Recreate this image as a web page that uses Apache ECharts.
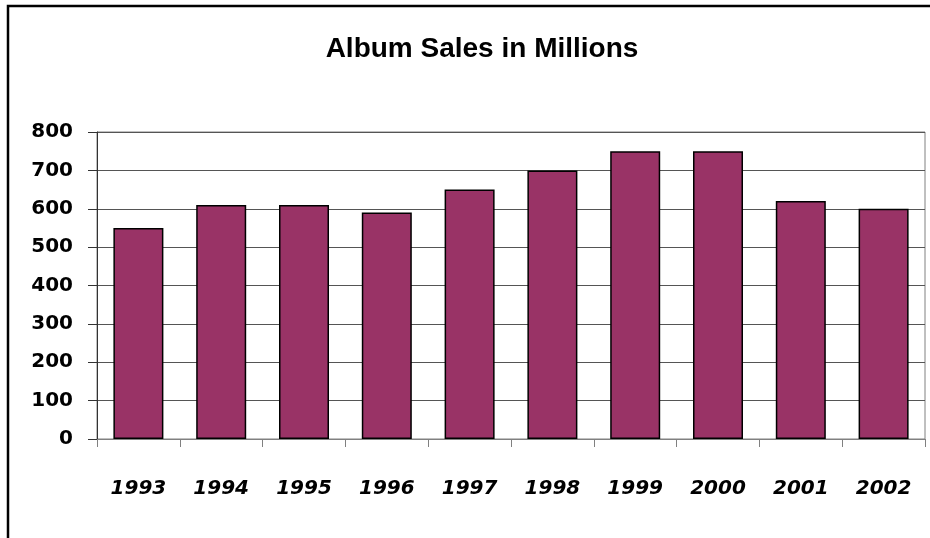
<!DOCTYPE html>
<html>
<head>
<meta charset="utf-8">
<script src="https://cdn.jsdelivr.net/npm/echarts@6/dist/echarts.min.js"></script>
<style>
html, body { margin: 0; padding: 0; background: #fff; }
#chart { width: 930px; height: 538px; }
</style>
</head>
<body>
<div id="chart"></div>
<script>
// data
var years = ['1993', '1994', '1995', '1996', '1997', '1998', '1999', '2000', '2001', '2002'];
var sales = [550, 610, 610, 590, 650, 700, 750, 750, 620, 600];
var yTicks = [0, 100, 200, 300, 400, 500, 600, 700, 800];

var chart = echarts.init(document.getElementById('chart'));
chart.setOption({
    animation: false,
    backgroundColor: '#fff',
    title: {
        text: 'Album Sales in Millions',
        left: 477,
        textAlign: 'center',
        top: 30,
        textStyle: {
            fontFamily: 'Liberation Sans',
            fontWeight: 'bold',
            fontSize: 28,
            color: '#000'
        }
    },
    graphic: [{
        type: 'rect',
        shape: { x: 8, y: 6, width: 1000, height: 1000 },
        style: { fill: 'none', stroke: '#000', lineWidth: 2.5 },
        silent: true
    }],
    grid: {
        left: 97,
        right: 5,
        top: 132,
        bottom: 99,
        show: true,
        borderColor: '#808080',
        borderWidth: 1
    },
    xAxis: {
        type: 'category',
        data: years,
        axisLine: { lineStyle: { color: '#808080', width: 1 } },
        axisTick: { show: true, length: 8, lineStyle: { color: '#808080' } },
        axisLabel: {
            margin: 40,
            color: '#000',
            fontFamily: 'DejaVu Sans',
            fontWeight: 'bold',
            fontStyle: 'italic',
            fontSize: 20
        }
    },
    yAxis: {
        type: 'value',
        min: yTicks[0],
        max: yTicks[yTicks.length - 1],
        interval: 100,
        axisLine: { show: true, lineStyle: { color: '#333', width: 1 } },
        axisTick: { show: true, length: 9, lineStyle: { color: '#333' } },
        splitLine: { show: true, lineStyle: { color: '#555', width: 1 } },
        axisLabel: {
            margin: 24,
            color: '#000',
            fontFamily: 'DejaVu Sans',
            fontWeight: 'bold',
            fontSize: 20
        }
    },
    series: [{
        type: 'bar',
        data: sales,
        barWidth: 50,
        itemStyle: {
            color: '#993366',
            borderColor: '#000',
            borderWidth: 1.5
        }
    }]
});
</script>
</body>
</html>
